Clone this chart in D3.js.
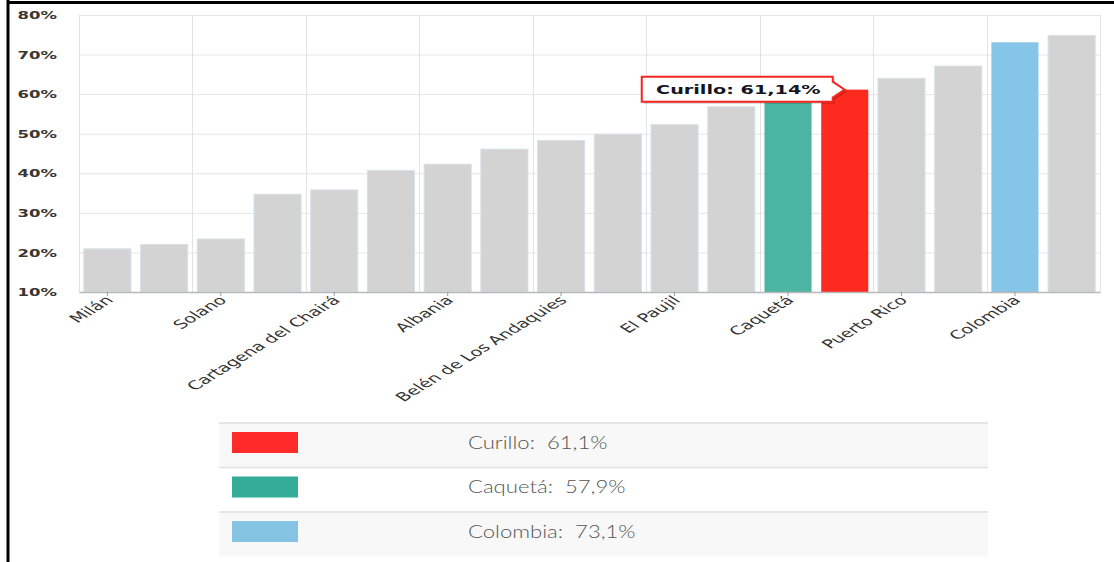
<!DOCTYPE html>
<html>
<head>
<meta charset="utf-8">
<script src="https://cdnjs.cloudflare.com/ajax/libs/d3/7.8.5/d3.min.js"></script>
<style>
  html, body { margin: 0; padding: 0; background: #fff; }
  svg { display: block; }
</style>
</head>
<body>
<svg id="chart" width="1114" height="562"></svg>
<script>
'use strict';

// municipios ordenados de menor a mayor
var categories = ['Milán', 'Solita', 'Solano', 'Valparaíso', 'Cartagena del Chairá',
  'La Montañita', 'Albania', 'San José del Fragua', 'Belén de Los Andaquies', 'Morelia',
  'El Paujil', 'San Vicente del Caguán', 'Caquetá', 'Curillo', 'Puerto Rico',
  'El Doncello', 'Colombia', 'Florencia'];
var values = [20.9, 22.0, 23.4, 34.7, 35.8, 40.7, 42.3, 46.1, 48.3, 49.9,
  52.3, 56.8, 57.9, 61.14, 64.0, 67.1, 73.1, 74.8];
var yTicks = [10, 20, 30, 40, 50, 60, 70, 80];

var highlightNames = ['Curillo', 'Caquetá', 'Colombia'];
var barColors = ['#ff2a1f', '#4ab5a2', '#85c6e8'];
var legendColors = ['#ff2b2b', '#33ad97', '#85c3e3'];
var tooltipName = 'Curillo';

var margin = {top: 15, right: 14, bottom: 270, left: 79},
    width = 1114,
    height = 562,
    sx = 1.5;   // the picture is stretched sideways

var svg = d3.select('#chart');

var x = d3.scaleBand()
    .domain(categories)
    .range([margin.left, width - margin.right])
    .paddingInner(0.17)
    .paddingOuter(0.085);

var y = d3.scaleLinear()
    .domain([10, 80])
    .range([height - margin.bottom, margin.top]);

var data = categories.map(function(d, i) { return {name: d, value: values[i]}; });

function barColor(name) {
  var k = highlightNames.indexOf(name);
  return k < 0 ? '#d3d3d3' : barColors[k];
}

// frame lines
svg.append('line').attr('x1', 8).attr('x2', 8).attr('y1', 0).attr('y2', height)
  .attr('stroke', '#000').attr('stroke-width', 3);
svg.append('line').attr('x1', 7).attr('x2', width).attr('y1', 2.5).attr('y2', 2.5)
  .attr('stroke', '#000').attr('stroke-width', 3);

// grid
var grid = svg.append('g').attr('class', 'grid');
grid.selectAll('line.h')
  .data(yTicks)
  .join('line')
    .attr('class', 'h')
    .attr('x1', margin.left).attr('x2', width - margin.right)
    .attr('y1', function(d) { return y(d) + 0.5; })
    .attr('y2', function(d) { return y(d) + 0.5; })
    .attr('stroke', '#e6e6e6');

var vIdx = d3.range(0, categories.length + 1, 2);
grid.selectAll('line.v')
  .data(vIdx)
  .join('line')
    .attr('class', 'v')
    .attr('x1', function(d) { return Math.round(margin.left + d * x.step()) + 0.5; })
    .attr('x2', function(d) { return Math.round(margin.left + d * x.step()) + 0.5; })
    .attr('y1', margin.top).attr('y2', y(10))
    .attr('stroke', '#e3e3e3');

// bars
svg.append('g').selectAll('rect')
  .data(data)
  .join('rect')
    .attr('x', function(d) { return x(d.name); })
    .attr('y', function(d) { return y(d.value); })
    .attr('width', x.bandwidth())
    .attr('height', function(d) { return y(10) - y(d.value); })
    .attr('fill', function(d) { return barColor(d.name); })
    .attr('stroke', function(d) { return highlightNames.indexOf(d.name) < 0 ? '#d5e2e8' : 'none'; })
    .attr('stroke-width', 1);

// x axis, label every other bar
var xAxis = svg.append('g')
  .attr('transform', 'translate(0,' + y(10) + ')')
  .call(d3.axisBottom(x)
    .tickValues(categories.filter(function(d, i) { return i % 2 === 0; }))
    .tickSize(4)
    .tickSizeOuter(0));
xAxis.select('.domain').attr('stroke', '#b8b8b8').attr('stroke-width', 1.5);
xAxis.selectAll('.tick line').attr('stroke', '#999');
xAxis.selectAll('.tick text')
  .attr('x', 0).attr('y', 0).attr('dy', '0.35em')
  .attr('text-anchor', 'end')
  .attr('transform', 'translate(2,6) scale(1.62,1) rotate(-45)')
  .style('font-family', '"DejaVu Sans", Verdana, sans-serif')
  .style('font-size', '12px')
  .attr('fill', '#333');

// y axis labels
svg.append('g').selectAll('text')
  .data(yTicks)
  .join('text')
    .attr('transform', function(d) { return 'translate(57,' + y(d) + ') scale(' + sx + ',1)'; })
    .attr('dy', '0.38em')
    .attr('text-anchor', 'end')
    .style('font-family', '"DejaVu Sans", Verdana, sans-serif')
    .style('font-size', '11px')
    .style('font-weight', 'bold')
    .attr('fill', '#3a3530')
    .text(function(d) { return d + '%'; });

// tooltip on the Curillo bar
var tipIdx = categories.indexOf(tooltipName),
    tipX = x(tooltipName) + x.bandwidth() / 2,
    tipY = y(values[tipIdx]),
    boxW = 191, boxH = 25, notch = 12,
    bx1 = tipX - notch, bx0 = bx1 - boxW,
    by0 = tipY - 13, by1 = by0 + boxH;

var tipPath = 'M' + bx0 + ',' + by0 + 'H' + bx1 + 'V' + (tipY - 8) + 'L' + tipX + ',' + tipY +
  'L' + bx1 + ',' + (tipY + 8) + 'V' + by1 + 'H' + bx0 + 'Z';

var tip = svg.append('g');
tip.append('path')
  .attr('d', tipPath)
  .attr('transform', 'translate(2,2)')
  .attr('fill', '#000').attr('opacity', 0.18);
tip.append('path')
  .attr('d', tipPath)
  .attr('fill', '#fff')
  .attr('stroke', '#f3261f')
  .attr('stroke-width', 2);
tip.append('text')
  .attr('transform', 'translate(' + (bx0 + boxW / 2 + 1) + ',' + (tipY + 0.5) + ') scale(1.6,1)')
  .attr('dy', '0.35em')
  .attr('text-anchor', 'middle')
  .style('font-family', '"DejaVu Sans", Verdana, sans-serif')
  .style('font-size', '12px')
  .style('font-weight', 'bold')
  .attr('fill', '#15151f')
  .text(tooltipName + ': ' + d3.format('.2f')(values[tipIdx]).replace('.', ',') + '%');

// legend table
var legX = 219, legW = 769, legY = 423, rowH = 44.5;
var legend = svg.append('g').selectAll('g')
  .data(highlightNames)
  .join('g')
    .attr('transform', function(d, i) { return 'translate(' + legX + ',' + (legY + i * rowH) + ')'; });

legend.append('rect')
  .attr('width', legW).attr('height', rowH)
  .attr('fill', function(d, i) { return i % 2 === 0 ? '#f8f8f8' : '#fff'; });
legend.append('line')
  .attr('x1', 0).attr('x2', legW).attr('y1', 0).attr('y2', 0)
  .attr('stroke', '#e6e6e6').attr('stroke-width', 2);
legend.append('rect')
  .attr('x', 13).attr('y', 9)
  .attr('width', 66).attr('height', 21)
  .attr('fill', function(d, i) { return legendColors[i]; });
legend.append('text')
  .attr('transform', 'translate(249,20) scale(1.3,1)')
  .attr('dy', '0.35em')
  .style('font-family', 'Lato, "Open Sans", sans-serif')
  .style('font-size', '17px')
  .style('font-weight', 300)
  .style('white-space', 'pre')
  .attr('fill', '#555')
  .text(function(d) {
    var v = values[categories.indexOf(d)];
    return d + ':  ' + d3.format('.1f')(v).replace('.', ',') + '%';
  });
</script>
</body>
</html>
